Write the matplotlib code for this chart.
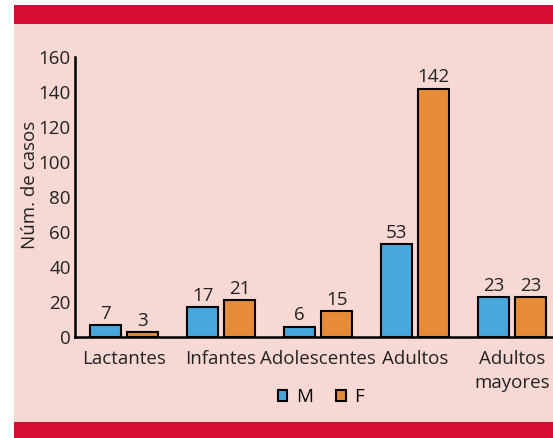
import matplotlib
matplotlib.use("Agg")
import matplotlib.pyplot as plt
from matplotlib.patches import Rectangle
import numpy as np

categories = ["Lactantes", "Infantes", "Adolescentes", "Adultos", "Adultos\nmayores"]
series_names = ["M", "F"]
values_m = [7, 17, 6, 53, 23]
values_f = [3, 21, 15, 142, 23]
yticks = [0, 20, 40, 60, 80, 100, 120, 140, 160]
ylabel = "Núm. de casos"

BLUE = "#48a8dc"
ORANGE = "#e88b38"
PINK = "#f7d8d3"
RED = "#d60d35"
TXT = "#222222"
FS = 13.5

plt.rcParams['font.family'] = ['Open Sans', 'DejaVu Sans']
W, H = 553, 438
fig = plt.figure(figsize=(W / 100, H / 100), dpi=100, facecolor="white")

def px(x0, y0, x1, y1):
    return (x0 / W, 1 - y1 / H), (x1 - x0) / W, (y1 - y0) / H

for (x0, y0, x1, y1, c) in [(14, 24, W, 422, PINK), (14, 5, W, 24, RED), (14, 422, W, H, RED)]:
    xy, w, h = px(x0, y0, x1, y1)
    fig.patches.append(Rectangle(xy, w, h, transform=fig.transFigure, facecolor=c, edgecolor="none", zorder=-10))

ax = fig.add_axes([75 / W, (H - 337) / H, (W - 75) / W, (337 - 57) / H])
ax.set_facecolor("none")

x = np.arange(len(categories))
bw = 0.32
off = 0.19
bm = ax.bar(x - off, values_m, bw, color=BLUE, edgecolor="black", linewidth=1.5, label=series_names[0], zorder=3)
bf = ax.bar(x + off, values_f, bw, color=ORANGE, edgecolor="black", linewidth=1.5, label=series_names[1], zorder=3)
for bars in (bm, bf):
    ax.bar_label(bars, labels=[str(v) for v in bars.datavalues], padding=1.5, fontsize=FS, color=TXT)

ax.set_xlim(-0.505, 4.42)
ax.set_ylim(0, 160)
ax.set_yticks(yticks)
ax.set_xticks(x)
ax.set_xticklabels(categories, fontsize=FS, color=TXT, linespacing=1.5)
ax.tick_params(axis="both", length=0, labelsize=FS, colors=TXT)
ax.tick_params(axis="x", pad=9)
ax.tick_params(axis="y", pad=3)
for s in ["top", "right"]:
    ax.spines[s].set_visible(False)
for s in ["left", "bottom"]:
    ax.spines[s].set_linewidth(1.8)
    ax.spines[s].set_color("black")
ax.set_ylabel(ylabel, fontsize=FS, color=TXT)
ax.yaxis.set_label_coords(-0.075, 0.545)

leg = fig.legend(handles=[bm, bf], labels=series_names, loc="center", bbox_to_anchor=(321 / W, 1 - 397 / H),
                 ncol=2, frameon=False, fontsize=FS, handlelength=0.5, handleheight=0.5,
                 handletextpad=0.45, columnspacing=1.25)

fig.savefig("out.png", dpi=100, facecolor="white")
